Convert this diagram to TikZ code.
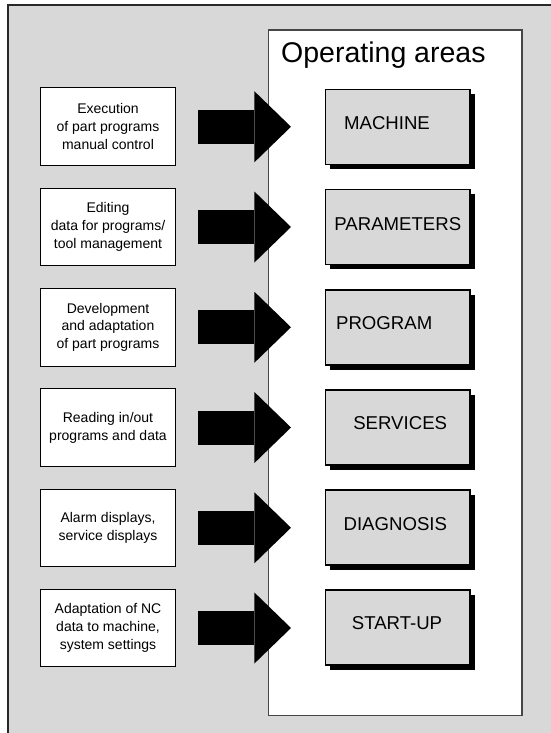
\documentclass[tikz,border=0pt]{standalone}
\usepackage{fontspec}
\setmainfont{Liberation Sans}
\usetikzlibrary{arrows.meta,calc}
\definecolor{bggray}{RGB}{216,216,216}
\definecolor{framegray}{RGB}{40,40,40}
\definecolor{panelgray}{RGB}{70,70,70}
\begin{document}
\begin{tikzpicture}[x=1pt,y=-1pt,
  leftbox/.style={draw=black, line width=1pt, fill=white, minimum width=135.5pt,
    minimum height=77.5pt, align=center, inner sep=0pt,
    font=\fontsize{14}{17.8}\selectfont},
  areabox/.style={draw=black, line width=1.3pt, fill=bggray, minimum width=144.3pt,
    minimum height=75pt, inner sep=0pt,
    preaction={fill=black, draw=none, transform canvas={shift={(4.8pt,-4.8pt)}}}},
  areatext/.style={font=\fontsize{18.6}{22}\selectfont, inner sep=0pt},
  bigarrow/.style={line width=34pt, draw=black,
    -{Triangle[length=36.6pt, width=71pt, line width=0pt]},
    shorten <=22pt, shorten >=34pt}]
\useasboundingbox (0,0) rectangle (551,733);
\clip (0,0) rectangle (551,733);
\fill[white] (0,0) rectangle (551,733);
\draw[line width=2.2pt, draw=framegray, fill=bggray] (7.7,4.7) rectangle (600,800);
% panel
\node[draw=panelgray, line width=1.3pt, fill=white, minimum width=253.2pt,
  minimum height=685.7pt, inner sep=0pt] (panel) at (395.4,372.85) {};
\node[anchor=base west, inner sep=0pt, font=\fontsize{28.5}{30}\selectfont]
  (title) at (281,62.7) {Operating areas};
% left boxes
\node[leftbox] (l1) at (108,126.75) {Execution\\of part programs\\manual control};
\node[leftbox] (l2) at (108,227) {Editing\\data for programs/\\tool management};
\node[leftbox] (l3) at (108,327.25) {Development\\and adaptation\\of part programs};
\node[leftbox] (l4) at (108,427.5) {Reading in/out\\programs and data};
\node[leftbox] (l5) at (108,527.75) {Alarm displays,\\service displays};
\node[leftbox] (l6) at (108,628) {Adaptation of NC\\data to machine,\\system settings};
% right boxes
\node[areabox] (r1) at (397.8,127) {};
\node[areabox] (r2) at (397.8,226.8) {};
\node[areabox] (r3) at (397.8,327.5) {};
\node[areabox] (r4) at (397.8,427.4) {};
\node[areabox] (r5) at (397.8,527.6) {};
\node[areabox] (r6) at (397.8,627.6) {};
\node[areatext] (t1) at ($(r1.center)+(-10.8,-4.3)$) {MACHINE};
\node[areatext] (t2) at ($(r2.center)+(0,-3)$) {PARAMETERS};
\node[areatext] (t3) at ($(r3.center)+(-13.6,-4)$) {PROGRAM};
\node[areatext] (t4) at ($(r4.center)+(2.4,-4)$) {SERVICES};
\node[areatext] (t5) at ($(r5.center)+(-2.5,-4)$) {DIAGNOSIS};
\node[areatext] (t6) at ($(r6.center)+(-0.8,-5)$) {START-UP};
% arrows
\foreach \i in {1,...,6}
  \draw[bigarrow] (l\i.east) -- (l\i.east -| r\i.west);
\end{tikzpicture}
\end{document}
